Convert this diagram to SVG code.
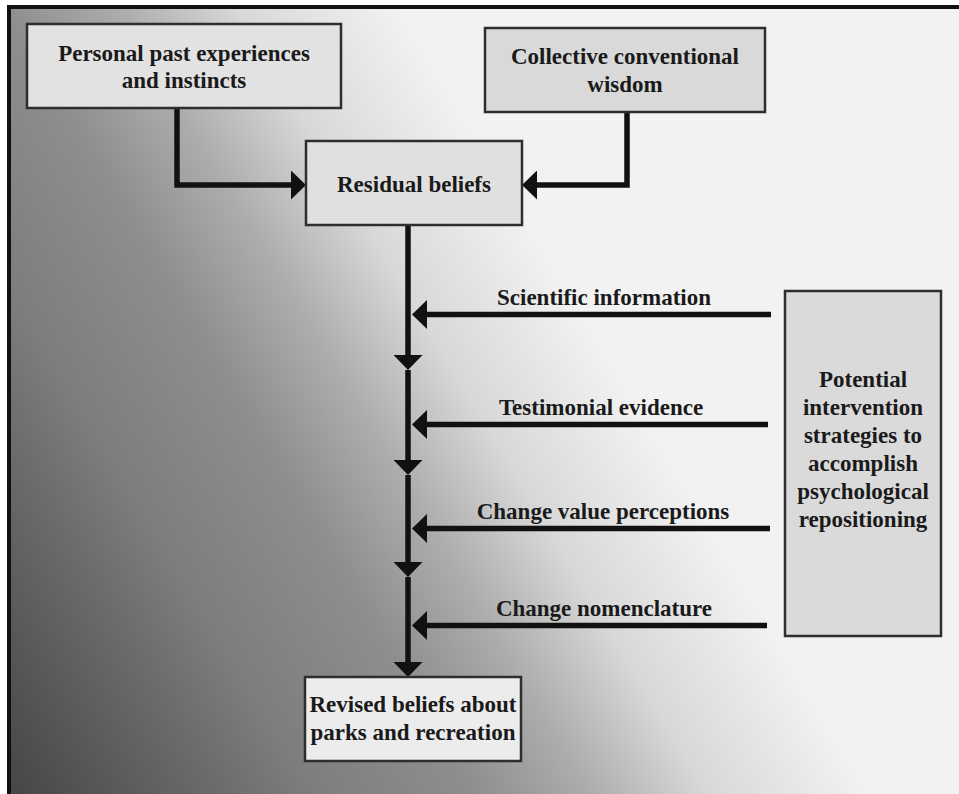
<svg xmlns="http://www.w3.org/2000/svg" width="959" height="794" viewBox="0 0 959 794">
  <defs>
    <linearGradient id="bg" gradientUnits="userSpaceOnUse" x1="0" y1="794" x2="641" y2="409.5">
      <stop offset="0" stop-color="#444444"/>
      <stop offset="0.238" stop-color="#696969"/>
      <stop offset="0.358" stop-color="#7d7d7d"/>
      <stop offset="0.545" stop-color="#8e8e8e"/>
      <stop offset="0.679" stop-color="#adadad"/>
      <stop offset="0.813" stop-color="#d8d8d8"/>
      <stop offset="1" stop-color="#f2f2f2"/>
    </linearGradient>
    <marker id="arrow" markerUnits="userSpaceOnUse" viewBox="0 0 15 29" refX="5" refY="14.5" markerWidth="15" markerHeight="29" orient="auto">
      <path d="M0,0 L15,14.5 L0,29 Z" fill="#111"/>
    </marker>
    <style>
      .box { stroke: #2e2e2e; stroke-width: 2.5; }
      .t { font-family: "Liberation Serif", "Times New Roman", serif; font-weight: bold; font-size: 23px; fill: #1a1a1a; text-anchor: middle; }
      .conn { fill: none; stroke: #111; stroke-width: 5.5; marker-end: url(#arrow); }
    </style>
  </defs>

  <!-- background and frame -->
  <rect x="0" y="0" width="959" height="794" fill="#ffffff"/>
  <rect x="9" y="7" width="950" height="787" fill="url(#bg)"/>
  <rect x="7" y="5" width="952" height="4" fill="#111"/>
  <rect x="7" y="5" width="4" height="789" fill="#111"/>

  <g id="connectors">
    <path class="conn" d="M177,108 V185 H296"/>
    <path class="conn" d="M627,112 V185 H532"/>
    <path class="conn" d="M408,225 V360"/>
    <path class="conn" d="M408,370 V465"/>
    <path class="conn" d="M408,475 V567"/>
    <path class="conn" d="M408,577 V667"/>
    <path class="conn" d="M771,314.5 H422"/>
    <path class="conn" d="M768,424.5 H422"/>
    <path class="conn" d="M770,528.5 H422"/>
    <path class="conn" d="M767,625.5 H422"/>
  </g>

  <g id="personal">
    <rect class="box" x="27" y="24" width="314" height="84" fill="#e2e2e2"/>
    <text class="t" x="184" y="61">Personal past experiences</text>
    <text class="t" x="184" y="88">and instincts</text>
  </g>

  <g id="collective">
    <rect class="box" x="485" y="28" width="280" height="84" fill="#d9d9d9"/>
    <text class="t" x="625" y="64">Collective conventional</text>
    <text class="t" x="625" y="92">wisdom</text>
  </g>

  <g id="residual">
    <rect class="box" x="306" y="141" width="216" height="84" fill="#e0e0e0"/>
    <text class="t" x="414" y="192">Residual beliefs</text>
  </g>

  <g id="potential">
    <rect class="box" x="785" y="291" width="156" height="345" fill="#dadada"/>
    <text class="t" x="863" y="387">Potential</text>
    <text class="t" x="863" y="415">intervention</text>
    <text class="t" x="863" y="443">strategies to</text>
    <text class="t" x="863" y="471">accomplish</text>
    <text class="t" x="863" y="499">psychological</text>
    <text class="t" x="863" y="527">repositioning</text>
  </g>

  <g id="labels">
    <text class="t" x="604" y="304.5">Scientific information</text>
    <text class="t" x="601" y="414.5">Testimonial evidence</text>
    <text class="t" x="603" y="518.5">Change value perceptions</text>
    <text class="t" x="604" y="615.5">Change nomenclature</text>
  </g>

  <g id="revised">
    <rect class="box" x="305" y="677" width="216" height="84" fill="#ececec"/>
    <text class="t" x="413" y="712">Revised beliefs about</text>
    <text class="t" x="413" y="740">parks and recreation</text>
  </g>
</svg>
